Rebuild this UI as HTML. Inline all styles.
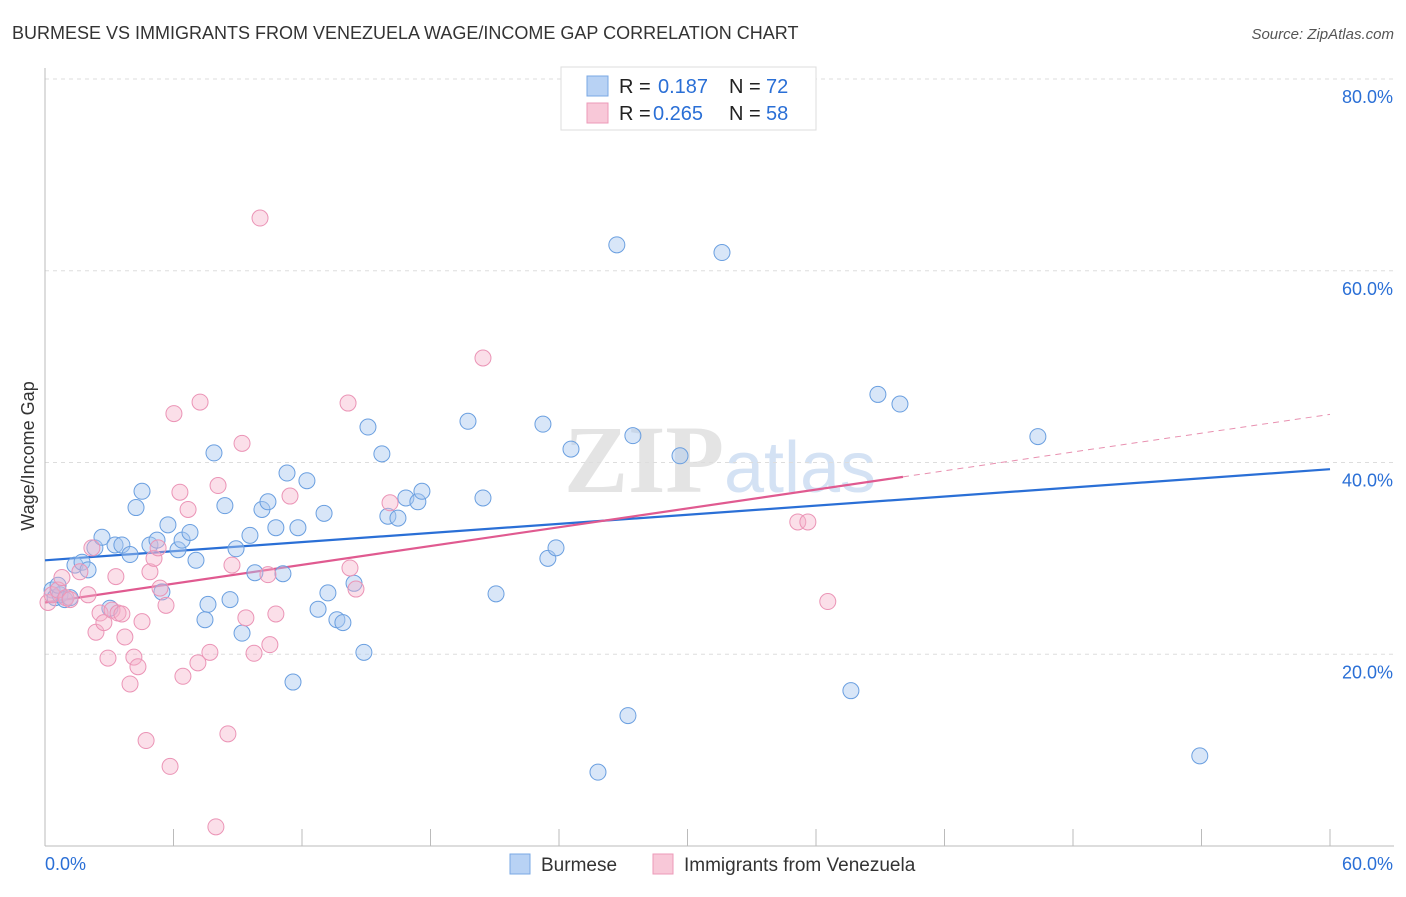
<!DOCTYPE html>
<html><head><meta charset="utf-8"><style>
body{margin:0;background:#fff;font-family:"Liberation Sans",sans-serif}
svg text{font-family:"Liberation Sans",sans-serif}
</style></head><body>
<svg id="c" width="1406" height="892" xmlns="http://www.w3.org/2000/svg">
<text x="12" y="39" font-size="18" fill="#333">BURMESE VS IMMIGRANTS FROM VENEZUELA WAGE/INCOME GAP CORRELATION CHART</text>
<text x="1394" y="39" font-size="15" fill="#555" font-style="italic" text-anchor="end">Source: ZipAtlas.com</text>
<text x="720" y="492" font-size="96" fill="#e4e4e4" text-anchor="middle" font-family="Liberation Serif"><tspan font-family="Liberation Serif" font-weight="bold">ZIP</tspan><tspan fill="#d4e2f4" font-family="Liberation Sans" font-size="72">atlas</tspan></text>
<g id="grid"></g><g id="axes"></g><g id="lines"></g><g id="pts"></g>
<text transform="translate(34,456) rotate(-90)" font-size="18" fill="#333" text-anchor="middle">Wage/Income Gap</text>
<g>
<rect x="561" y="67" width="255" height="63" fill="#fff" stroke="#ddd"/>
<rect x="587" y="76" width="21" height="20" fill="#b8d2f4" stroke="#7aa8e4"/>
<rect x="587" y="103" width="21" height="20" fill="#f8c8d8" stroke="#ec9ab8"/>
<text x="619" y="93" font-size="20" fill="#222">R = <tspan fill="#2a6fd6" x="658">0.187</tspan><tspan fill="#222" x="729">N =</tspan><tspan fill="#2a6fd6" x="766">72</tspan></text>
<text x="619" y="120" font-size="20" fill="#222">R = <tspan fill="#2a6fd6" x="653">0.265</tspan><tspan fill="#222" x="729">N =</tspan><tspan fill="#2a6fd6" x="766">58</tspan></text>
</g>
<g>
<rect x="510" y="854" width="20" height="20" fill="#b8d2f4" stroke="#7aa8e4"/>
<text x="541" y="871" font-size="19" fill="#333">Burmese</text>
<rect x="653" y="854" width="20" height="20" fill="#f8c8d8" stroke="#ec9ab8"/>
<text x="684" y="871" font-size="19" fill="#333">Immigrants from Venezuela</text>
</g>
</svg>
<script>
const yTicks=[20,40,60,80];
const yTickLabels=["20.0%","40.0%","60.0%","80.0%"];
const xTickLabels=["0.0%","60.0%"];
const blueX=[0.33,0.47,0.70,0.93,1.17,0.61,1.40,1.73,2.01,2.33,2.66,3.27,3.59,3.97,3.03,4.25,4.53,4.90,5.23,5.46,5.74,6.21,6.40,6.77,7.05,7.61,7.47,7.89,8.40,8.64,8.92,9.20,9.57,9.80,10.13,10.41,10.78,11.11,11.30,11.58,11.81,12.23,12.75,13.03,13.21,13.63,13.91,14.43,14.89,15.08,15.73,16.01,16.48,16.85,17.41,17.60,19.75,20.45,21.06,23.25,23.48,23.86,24.56,25.82,26.70,27.22,27.45,29.65,31.61,37.63,38.89,39.92,46.36,53.92];
const blueY=[26.7,25.9,26.2,25.7,25.9,27.2,29.3,29.6,28.8,31.1,32.2,31.4,31.4,30.4,24.8,35.3,37.0,31.4,31.9,26.5,33.5,30.9,31.9,32.7,29.8,25.2,23.6,41.0,35.5,25.7,31.0,22.2,32.4,28.5,35.1,35.9,33.2,28.4,38.9,17.1,33.2,38.1,24.7,34.7,26.4,23.6,23.3,27.4,20.2,43.7,40.9,34.4,34.2,36.3,35.9,37.0,44.3,36.3,26.3,44.0,30.0,31.1,41.4,7.7,62.7,13.6,42.8,40.7,61.9,16.2,47.1,46.1,42.7,9.4];
const pinkX=[0.14,0.33,0.61,0.79,0.98,1.17,1.63,2.01,2.19,2.38,2.57,2.75,2.94,3.13,3.31,3.41,3.59,3.73,3.97,4.15,4.34,4.53,4.72,4.90,5.09,5.28,5.37,5.65,5.84,6.02,6.30,6.44,6.68,7.14,7.24,7.70,7.98,8.08,8.54,8.73,9.20,9.38,9.76,10.04,10.41,10.50,10.78,11.44,14.15,14.24,14.52,16.11,20.45,35.15,35.62,36.55];
const pinkY=[25.4,26.2,26.7,28.0,25.9,25.7,28.6,26.2,31.1,22.3,24.3,23.3,19.6,24.6,28.1,24.3,24.2,21.8,16.9,19.7,18.7,23.4,11.0,28.6,30.0,31.1,26.9,25.1,8.3,45.1,36.9,17.7,35.1,19.1,46.3,20.2,2.0,37.6,11.7,29.3,42.0,23.8,20.1,65.5,28.3,21.0,24.2,36.5,46.2,29.0,26.8,35.8,50.9,33.8,33.8,25.5];
const blueTrend=[29.8,39.3];   // y at x=0, x=60
const pinkTrend=[25.4,0.327,40.06]; // intercept, slope, solid end x

const NS="http://www.w3.org/2000/svg";
const X0=45,X1=1330,Y0=846,YT=79;
const sx=v=>X0+v*(X1-X0)/60;
const sy=v=>Y0-v*(Y0-YT)/80;
function mk(tag,attrs,parent){const e=document.createElementNS(NS,tag);for(const k in attrs)e.setAttribute(k,attrs[k]);document.getElementById(parent).appendChild(e);return e;}
yTicks.forEach((t,i)=>{
  const g=mk('line',{x1:X0,x2:1394,y1:sy(t),y2:sy(t),stroke:'#ddd','stroke-dasharray':'4,4'},'grid');
  
  
  const l=mk('text',{x:1393,y:sy(t)+24,'font-size':18,fill:'#2a6fd6','text-anchor':'end'},'axes');
  l.textContent=yTickLabels[i];
  
  
});
let a=mk('line',{x1:X0,x2:X0,y1:68,y2:Y0,stroke:'#bbb'},'axes');


a=mk('line',{x1:X0,x2:1394,y1:Y0,y2:Y0,stroke:'#bbb'},'axes');


for(let i=0;i<=10;i++){const t=mk('line',{x1:sx(i*6),x2:sx(i*6),y1:829,y2:Y0,stroke:'#bbb'},'axes');
  
  }
[[0,'start',45],[60,'end',1393]].forEach((d,i)=>{const t=mk('text',{x:d[2],y:870,'font-size':18,fill:'#2a6fd6','text-anchor':d[1]},'axes');t.textContent=xTickLabels[i];
  
  });
blueX.forEach((x,i)=>{const c=mk('circle',{cx:sx(x),cy:sy(blueY[i]),r:8,fill:'rgba(168,200,240,0.45)',stroke:'#6a9fe0','stroke-width':1},'pts');
  
  });
pinkX.forEach((x,i)=>{const c=mk('circle',{cx:sx(x),cy:sy(pinkY[i]),r:8,fill:'rgba(244,176,200,0.4)',stroke:'#eb94b6','stroke-width':1},'pts');
  
  });
let ln=mk('line',{x1:sx(0),y1:sy(blueTrend[0]),x2:sx(60),y2:sy(blueTrend[1]),stroke:'#2a6fd6','stroke-width':2.2},'lines');


const pe=pinkTrend[2];
ln=mk('line',{x1:sx(0),y1:sy(pinkTrend[0]),x2:sx(pe),y2:sy(pinkTrend[0]+pinkTrend[1]*pe),stroke:'#e05a90','stroke-width':2.2},'lines');


ln=mk('line',{x1:sx(pe),y1:sy(pinkTrend[0]+pinkTrend[1]*pe),x2:sx(60),y2:sy(pinkTrend[0]+pinkTrend[1]*60),stroke:'#e890b0','stroke-width':1,'stroke-dasharray':'6,5'},'lines');


</script>
</body></html>
